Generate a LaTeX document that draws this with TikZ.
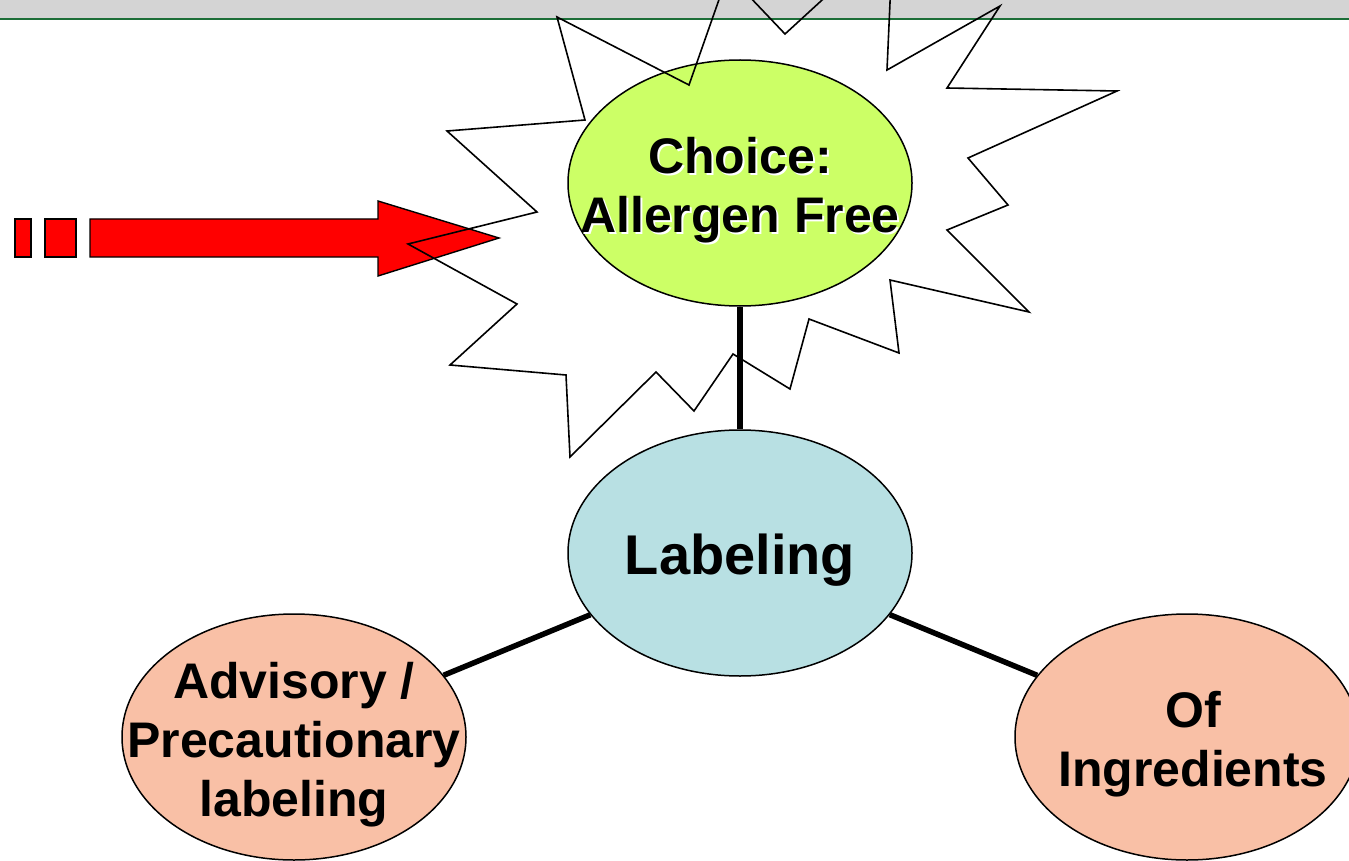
\documentclass[tikz,border=0pt]{standalone}
\usepackage{fontspec}
\setmainfont{Liberation Sans}
\usetikzlibrary{shapes.geometric}

\definecolor{bandgray}{HTML}{D4D4D4}
\definecolor{bandgreen}{HTML}{1C6E38}
\definecolor{limefill}{HTML}{CCFF66}
\definecolor{bluefill}{HTML}{B8E0E3}
\definecolor{salmonfill}{HTML}{F9C0A6}
\definecolor{arrowred}{HTML}{FF0000}

\tikzset{
  bubble/.style={ellipse, draw=black, line width=1.5pt, minimum width=344pt,
                 minimum height=246pt, inner sep=0pt},
  txt/.style={font=\bfseries\fontsize{50}{59}\selectfont, align=center, inner sep=0pt},
  bigtxt/.style={font=\bfseries\fontsize{56}{64}\selectfont, align=center, inner sep=0pt},
  conn/.style={line width=5.5pt, draw=black},
  burst/.style={draw=black, line width=1.6pt, line join=miter},
  redpart/.style={fill=arrowred, draw=black, line width=1.4pt}
}

\begin{document}
\begin{tikzpicture}[x=1pt, y=-1pt]
  \useasboundingbox (0,0) rectangle (1349,861);
  \clip (0,0) rectangle (1349,861);

  % header band
  \fill[bandgray] (0,0) rectangle (1349,18);
  \draw[bandgreen, line width=2.4pt] (0,19) -- (1349,19);

  % red block arrow with two lead-in dashes
  \draw[redpart] (15,219) rectangle (31,257);
  \draw[redpart] (45,219) rectangle (76,257);
  \draw[redpart] (90,219) -- (378,219) -- (378,201) -- (499,238)
                 -- (378,276) -- (378,257) -- (90,257) -- cycle;

  % ellipses
  \node[bubble, fill=limefill] (choice) at (740,183) {};
  \node[bubble, fill=bluefill] (labeling) at (740,553) {};
  \node[bubble, fill=salmonfill] (advisory) at (294,737) {};
  \node[bubble, fill=salmonfill] (ingredients) at (1187,737) {};

  % starburst outline
  \draw[burst] (557,17) -- (689,85) -- (728,-26) -- (785,34) -- (893,-65)
    -- (887,70) -- (1000,6) -- (947,88) -- (1117,91) -- (968,158)
    -- (1008,205) -- (947,230) -- (1029,312) -- (890,280) -- (899,353)
    -- (809,319) -- (790,389) -- (733,354) -- (694,411) -- (656,372)
    -- (570,457) -- (566,375) -- (450,365) -- (517,304) -- (408,244)
    -- (537,212) -- (447,131) -- (585,120) -- cycle;

  % connectors
  \draw[conn] (choice) -- (labeling);
  \draw[conn] (labeling) -- (advisory);
  \draw[conn] (labeling) -- (ingredients);

  % labels
  \node[txt, white] (choiceshade) at ([shift={(2,9)}]choice.center) {Choice:\\Allergen Free};
  \node[txt] (choicetext) at ([shift={(0,7)}]choice.center) {Choice:\\Allergen Free};
  \node[bigtxt] (labelingtext) at ([shift={(0,7)}]labeling.center) {Labeling};
  \node[txt] (advisorytext) at ([shift={(0,8)}]advisory.center) {Advisory /\\Precautionary\\labeling};
  \node[txt] (ingredientstext) at ([shift={(6,7)}]ingredients.center) {Of\\Ingredients};
\end{tikzpicture}
\end{document}
